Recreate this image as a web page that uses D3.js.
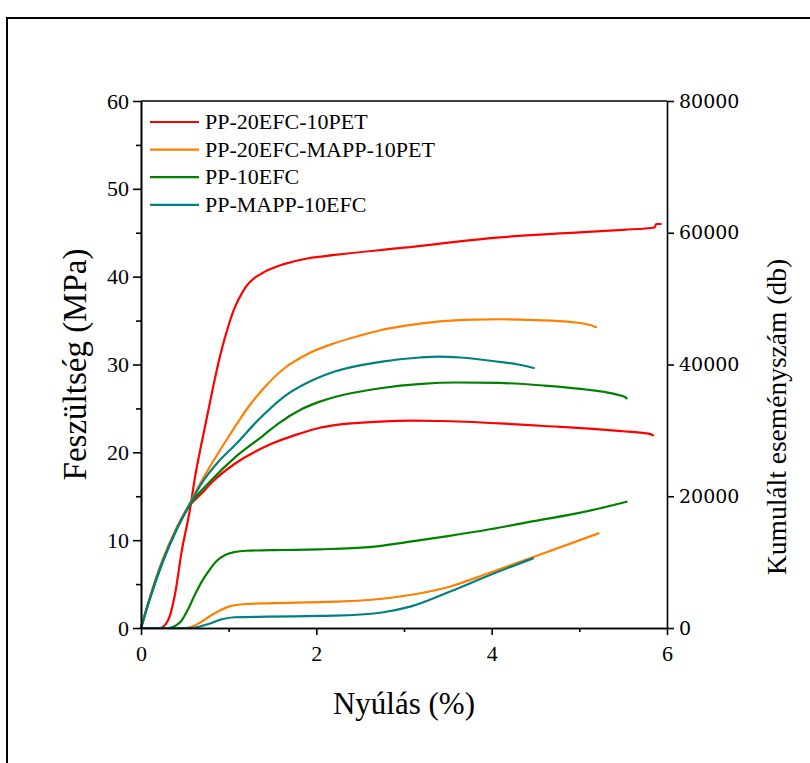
<!DOCTYPE html>
<html>
<head>
<meta charset="utf-8">
<script src="https://cdn.jsdelivr.net/npm/d3@7"></script>
<style>
  body { margin: 0; background: #fff; }
  svg { display: block; }
</style>
</head>
<body>
<svg id="chart" width="810" height="763"></svg>
<script>
// Axis ticks
const xTicks = [0, 2, 4, 6];
const xMinorTicks = [1, 3, 5];
const stressTicks = [0, 10, 20, 30, 40, 50, 60];
const stressMinorTicks = [5, 15, 25, 35, 45, 55];
const countTicks = [0, 20000, 40000, 60000, 80000];

// Series
const seriesNames = ["PP-20EFC-10PET", "PP-20EFC-MAPP-10PET", "PP-10EFC", "PP-MAPP-10EFC"];
const seriesColors = ["#ff0000", "#ff8000", "#008000", "#008080"];

// Stress–strain curves: [strain %, stress MPa]
const stressRed = [[0,0],[0.1,3.4],[0.25,7.8],[0.41,11.4],[0.55,13.9],[0.69,15.3],[0.81,16.6],[1.07,18.7],[1.45,20.8],[1.8,22.1],[2.04,22.8],[2.21,23.1],[2.73,23.5],[3.1,23.6],[3.41,23.57],[4.09,23.3],[4.6,23.0],[5.12,22.7],[5.5,22.4],[5.69,22.24],[5.8,22.1],[5.84,21.94]];
const stressOrange = [[0,0],[0.1,3.4],[0.25,7.8],[0.41,11.5],[0.55,14.1],[0.7,16.9],[0.88,19.9],[1.0,21.8],[1.11,23.5],[1.25,25.5],[1.4,27.3],[1.64,29.6],[1.9,31.2],[2.2,32.4],[2.5,33.3],[2.73,33.9],[3.0,34.4],[3.41,34.9],[3.8,35.1],[4.1,35.15],[4.5,35.05],[4.89,34.85],[5.12,34.5],[5.19,34.25]];
const stressGreen = [[0,0],[0.1,3.3],[0.25,7.6],[0.41,11.3],[0.55,13.9],[0.81,16.9],[1.07,19.4],[1.38,21.8],[1.57,23.3],[1.83,24.9],[2.04,25.77],[2.21,26.3],[2.73,27.3],[3.2,27.8],[3.6,27.95],[4.09,27.9],[4.6,27.6],[5.12,27.1],[5.3,26.85],[5.46,26.5],[5.52,26.3],[5.54,26.15]];
const stressTeal = [[0,0],[0.1,3.3],[0.25,7.6],[0.41,11.3],[0.55,13.95],[0.7,16.6],[0.88,18.9],[1.07,20.8],[1.32,23.5],[1.64,26.4],[2.0,28.4],[2.21,29.2],[2.73,30.3],[3.18,30.8],[3.4,30.9],[3.64,30.8],[4.09,30.3],[4.3,30.0],[4.48,29.6]];

// Cumulative acoustic-emission event counts: [strain %, db]
const countRed = [[0,0],[0.22,0],[0.31,1200],[0.39,5270],[0.46,11330],[0.56,18130],[0.62,23200],[0.69,28000],[0.75,31870],[0.82,36400],[0.9,41200],[1.0,46000],[1.07,48670],[1.15,50800],[1.2,51870],[1.3,53200],[1.35,53600],[1.45,54330],[1.55,54870],[1.64,55270],[1.91,56130],[2.21,56630],[3.0,57730],[4.09,59300],[5.0,60070],[5.5,60450],[5.86,60800],[5.875,61330],[5.93,61330]];
const countOrange = [[0,0],[0.5,0],[0.6,300],[0.69,960],[0.84,2230],[1.0,3240],[1.19,3640],[1.45,3750],[2.21,4000],[2.6,4250],[3.07,5010],[3.52,6270],[3.98,8400],[4.5,10890],[5.22,14370]];
const countGreen = [[0,0],[0.31,0],[0.4,400],[0.46,1070],[0.54,2930],[0.62,5200],[0.7,7200],[0.78,8800],[0.86,10130],[0.96,11070],[1.07,11530],[1.2,11730],[1.64,11840],[2.04,11950],[2.6,12270],[3.07,13110],[3.5,13950],[3.98,14990],[4.5,16270],[5.0,17470],[5.54,19170]];
const countTeal = [[0,0],[0.56,0],[0.65,150],[0.77,610],[0.92,1320],[1.07,1630],[1.45,1720],[2.04,1830],[2.21,1870],[2.73,2320],[3.07,3240],[3.52,5510],[3.98,8040],[4.47,10570]];

const stressSeries = [stressRed, stressOrange, stressGreen, stressTeal];
const countSeries = [countRed, countOrange, countGreen, countTeal];

const svg = d3.select("#chart");
const serif = "'Liberation Serif', 'Times New Roman', serif";

const plot = { left: 141, right: 667, top: 101, bottom: 628 };

const x = d3.scaleLinear().domain([0, 6]).range([plot.left, plot.right]);
const yStress = d3.scaleLinear().domain([0, 60]).range([plot.bottom, plot.top]);
const yCount = d3.scaleLinear().domain([0, 80000]).range([plot.bottom, plot.top]);

// Outer frame
svg.append("rect")
  .attr("x", 7).attr("y", 18)
  .attr("width", 830).attr("height", 800)
  .attr("fill", "none").attr("stroke", "#000").attr("stroke-width", 2);

// Data lines
const lineStress = d3.line().x(d => x(d[0])).y(d => yStress(d[1])).curve(d3.curveMonotoneX);
const lineCount = d3.line().x(d => x(d[0])).y(d => yCount(d[1])).curve(d3.curveMonotoneX);

const curves = svg.append("g").attr("fill", "none").attr("stroke-width", 2.2)
  .attr("stroke-linejoin", "round").attr("stroke-linecap", "round");
seriesColors.forEach((c, i) => {
  curves.append("path").attr("d", lineStress(stressSeries[i])).attr("stroke", c);
  curves.append("path").attr("d", lineCount(countSeries[i])).attr("stroke", c);
});

// Axes
function styleAxis(g) {
  g.selectAll("path, line").attr("stroke", "#000").attr("stroke-width", 1.6);
  g.selectAll("text").attr("font-family", serif).attr("font-size", 22).attr("fill", "#000");
}

svg.append("g")
  .attr("transform", `translate(0,${plot.bottom})`)
  .call(d3.axisBottom(x).tickValues(xTicks).tickFormat(d3.format("d")).tickSize(7).tickSizeOuter(0).tickPadding(10))
  .call(styleAxis);
svg.append("g")
  .attr("transform", `translate(0,${plot.bottom})`)
  .call(d3.axisBottom(x).tickValues(xMinorTicks).tickFormat("").tickSize(4).tickSizeOuter(0))
  .call(styleAxis);

svg.append("g")
  .attr("transform", `translate(${plot.left},0)`)
  .call(d3.axisLeft(yStress).tickValues(stressTicks).tickFormat(d3.format("d")).tickSize(8).tickSizeOuter(0).tickPadding(4))
  .call(styleAxis);
svg.append("g")
  .attr("transform", `translate(${plot.left},0)`)
  .call(d3.axisLeft(yStress).tickValues(stressMinorTicks).tickFormat("").tickSize(5).tickSizeOuter(0))
  .call(styleAxis);

const rightAxis = svg.append("g")
  .attr("transform", `translate(${plot.right},0)`)
  .call(d3.axisRight(yCount).tickValues(countTicks).tickFormat(d3.format("d")).tickSize(7).tickSizeOuter(0).tickPadding(5))
  .call(styleAxis);
rightAxis.selectAll("text").attr("font-family", "'DejaVu Serif', serif").attr("font-size", 19);

// Top frame line of the plot
svg.append("line")
  .attr("x1", plot.left).attr("x2", plot.right)
  .attr("y1", plot.top).attr("y2", plot.top)
  .attr("stroke", "#000").attr("stroke-width", 1.6);

// Axis titles
svg.append("text")
  .attr("x", (plot.left + plot.right) / 2).attr("y", 714)
  .attr("text-anchor", "middle")
  .attr("font-family", serif).attr("font-size", 31)
  .text("Nyúlás (%)");

svg.append("text")
  .attr("transform", `translate(86,${(plot.top + plot.bottom) / 2}) rotate(-90)`)
  .attr("text-anchor", "middle")
  .attr("font-family", serif).attr("font-size", 33)
  .text("Feszültség (MPa)");

svg.append("text")
  .attr("transform", `translate(786,417) rotate(-90)`)
  .attr("text-anchor", "middle")
  .attr("font-family", serif).attr("font-size", 27.5)
  .text("Kumulált eseményszám (db)");

// Legend
const legend = svg.append("g");
seriesNames.forEach((name, i) => {
  const cy = 122 + i * 27.6;
  legend.append("line")
    .attr("x1", 150).attr("x2", 199).attr("y1", cy).attr("y2", cy)
    .attr("stroke", seriesColors[i]).attr("stroke-width", 2.2);
  legend.append("text")
    .attr("x", 205).attr("y", cy + 7)
    .attr("font-family", serif).attr("font-size", 22)
    .text(name);
});
</script>
</body>
</html>
